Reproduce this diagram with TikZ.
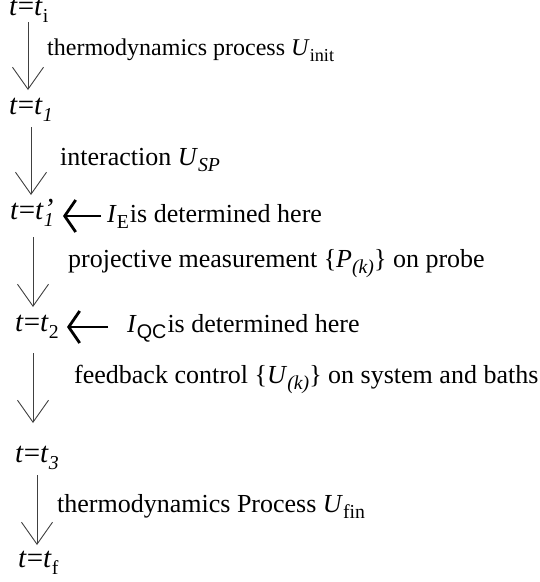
\documentclass[tikz,border=0pt]{standalone}
\usepackage{fontspec}
\usepackage{graphicx}
\setmainfont{Liberation Serif}
\newfontfamily\sansf{Liberation Sans}
\usetikzlibrary{arrows.meta}
\newcommand{\sbs}[1]{\raisebox{-0.26em}{\scalebox{0.76}{#1}}}
\newcommand{\tsbs}[1]{\raisebox{-0.26em}{\scalebox{0.68}{#1}}}
\begin{document}
\begin{tikzpicture}[x=1pt,y=-1pt,
  lbl/.style={anchor=base west,inner sep=0pt,font=\fontsize{26}{30}\selectfont},
  tlbl/.style={anchor=base west,inner sep=0pt,font=\fontsize{29}{33}\selectfont},
  flow/.style={draw=black!75,line width=0.9pt,-{Straight Barb[length=22pt,width=31pt,line width=0.9pt]}},
  pointer/.style={draw=black,line width=2.8pt,-{Straight Barb[length=11pt,width=32pt]}}]
\useasboundingbox (0,0) rectangle (540,582);
% time labels
\node[tlbl] (ti) at (9,15) {\textit{t}=\textit{t}\tsbs{i}};
\node[tlbl] (t1) at (9,114) {\textit{t}=\textit{t}\tsbs{\itshape 1}};
\node[tlbl] (t1p) at (10,219) {\textit{t}=\textit{t}\makebox[0pt][l]{\tsbs{\itshape 1}}\raisebox{0.02em}{\itshape ’}};
\node[tlbl] (t2) at (15,331) {\textit{t}=\textit{t}\tsbs{2}};
\node[tlbl] (t3) at (15,462) {\textit{t}=\textit{t}\tsbs{\itshape 3}};
\node[tlbl] (tf) at (18,567) {\textit{t}=\textit{t}\tsbs{f}};
% process labels
\node[lbl,font=\fontsize{24}{28}\selectfont] (l1) at (47,55) {thermodynamics process \textit{U}\sbs{init}};
\node[lbl] (l2) at (60,165) {interaction \textit{U}\sbs{\itshape SP}};
\node[lbl] (l3) at (68,267) {projective measurement \{\textit{P}\sbs{\itshape (k)}\} on probe};
\node[lbl] (l4) at (74,383) {feedback control \{\textit{U}\sbs{\itshape (k)}\} on system and baths};
\node[lbl] (l5) at (57,512) {thermodynamics Process \textit{U}\sbs{fin}};
\node[lbl] (ie) at (107,222) {\textit{I}\sbs{E}\kern1pt is determined here};
\node[lbl] (iqc) at (127,332) {\textit{I}\sbs{\sansf QC}\kern1pt is determined here};
% arrow ends
\coordinate (a1s) at (28,22);  \coordinate (a1e) at (28,90);
\coordinate (a2s) at (31,127); \coordinate (a2e) at (31,195);
\coordinate (a3s) at (33,237); \coordinate (a3e) at (33,307);
\coordinate (a4s) at (33,353); \coordinate (a4e) at (33,423);
\coordinate (a5s) at (37,475); \coordinate (a5e) at (37,545);
\coordinate (p1s) at (101,216); \coordinate (p1e) at (63,216);
\coordinate (p2s) at (108,327); \coordinate (p2e) at (67,327);
\draw[flow] (a1s) -- (a1e);
\draw[flow] (a2s) -- (a2e);
\draw[flow] (a3s) -- (a3e);
\draw[flow] (a4s) -- (a4e);
\draw[flow] (a5s) -- (a5e);
\draw[pointer] (p1s) -- (p1e);
\draw[pointer] (p2s) -- (p2e);
\end{tikzpicture}
\end{document}
